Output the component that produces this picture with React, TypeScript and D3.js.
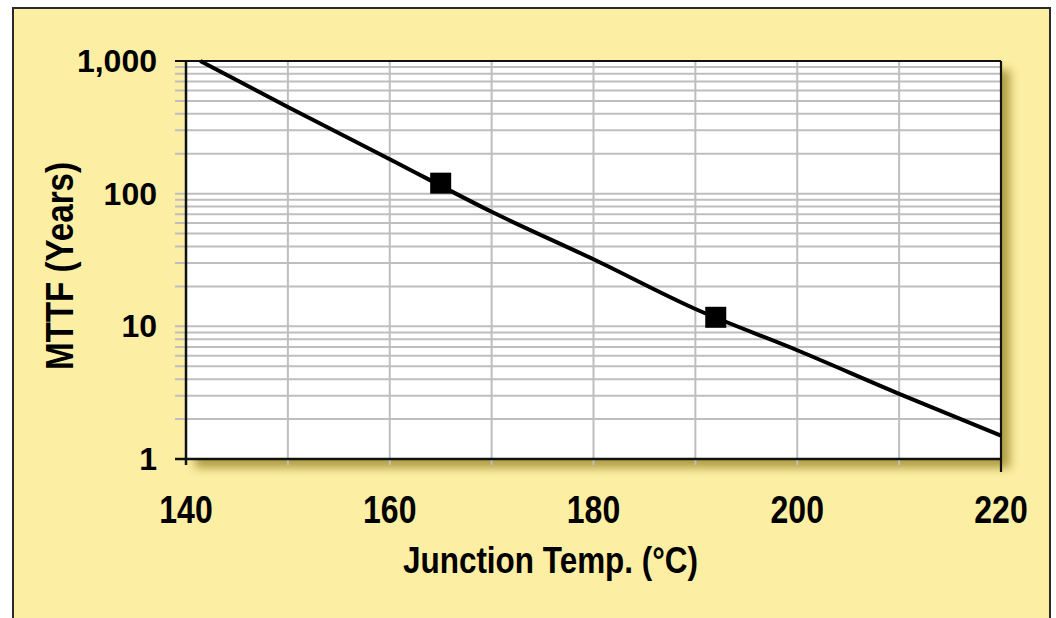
import React from "react";
import * as d3 from "d3";

// ---- data ----
const lineTemps = [141.4, 150, 160, 170, 180, 190, 200, 210, 220];
const lineMTTF = [1000, 450, 182, 73, 32, 13.5, 6.6, 3.1, 1.5];
const markerTemps = [165, 192];
const markerMTTF = [120, 11.7];
const xLabelValues = [140, 160, 180, 200, 220];
const yLabelValues = [1, 10, 100, 1000];
const yLabelTexts = ["1", "10", "100", "1,000"];
const xTitle = "Junction Temp. (°C)";
const yTitle = "MTTF (Years)";

const W = 1056;
const H = 618;
const FONT = "'Liberation Sans', Arial, Helvetica, sans-serif";

export default function App() {
  const left = 186, right = 1001, top = 61, bottom = 459;
  const x = d3.scaleLinear().domain([140, 220]).range([left, right]);
  const y = d3.scaleLog().domain([1, 1000]).range([bottom, top]);

  const yGrid = y.ticks();
  const xGrid = x.ticks(8);

  const pts = lineTemps.map((t, i) => [t, lineMTTF[i]] as [number, number]);
  const line = d3
    .line<[number, number]>()
    .x((d) => x(d[0]))
    .y((d) => y(d[1]))
    .curve(d3.curveMonotoneX);

  const bg = "#FCEEA3";
  const grid = "#BEBEBE";
  const ms = 21;

  return (
    <svg
      width={W}
      height={H}
      style={{ position: "absolute", left: 0, top: 0, display: "block" }}
    >
      <defs>
        <filter id="shadow" x="-10%" y="-10%" width="130%" height="130%">
          <feGaussianBlur stdDeviation="5" />
        </filter>
      </defs>
      <rect x={0} y={0} width={W} height={H} fill="#ffffff" />
      <rect
        x={13}
        y={8}
        width={1037}
        height={H + 20}
        fill={bg}
        stroke="#2a2a2a"
        strokeWidth={2}
      />
      {/* drop shadow */}
      <rect
        x={left + 9}
        y={top + 9}
        width={right - left}
        height={bottom - top}
        fill="#8f7c1c"
        opacity={0.7}
        filter="url(#shadow)"
      />
      {/* plot area */}
      <rect x={left} y={top} width={right - left} height={bottom - top} fill="#ffffff" />

      {/* horizontal grid + y ticks */}
      {yGrid.map((v, i) => (
        <line
          key={"yg" + i}
          x1={left - 11}
          x2={right}
          y1={y(v)}
          y2={y(v)}
          stroke={v === 1 || v === 1000 ? "#111" : grid}
          strokeWidth={v === 1 || v === 1000 ? 2.2 : 2}
        />
      ))}
      {/* vertical grid + x ticks */}
      {xGrid.map((v, i) => (
        <line
          key={"xg" + i}
          x1={x(v)}
          x2={x(v)}
          y1={top}
          y2={bottom + 6}
          stroke={v === 140 || v === 220 ? "#111" : grid}
          strokeWidth={2}
        />
      ))}
      {/* frame */}
      <line x1={left} x2={left} y1={top} y2={bottom + 6} stroke="#111" strokeWidth={2.5} />
      <line x1={right} x2={right} y1={top} y2={bottom + 13} stroke="#111" strokeWidth={2.2} />
      <line x1={left - 11} x2={right} y1={bottom} y2={bottom} stroke="#111" strokeWidth={2.5} />
      <line x1={left - 11} x2={right} y1={top} y2={top} stroke="#111" strokeWidth={2.2} />

      {/* data line */}
      <path d={line(pts) || ""} fill="none" stroke="#000" strokeWidth={4} />
      {markerTemps.map((t, i) => (
        <rect
          key={"m" + i}
          x={x(t) - ms / 2}
          y={y(markerMTTF[i]) - ms / 2}
          width={ms}
          height={ms}
          fill="#000"
        />
      ))}

      {/* y labels */}
      {yLabelValues.map((v, i) => (
        <text
          key={"yl" + i}
          x={157}
          y={y(v) + 11}
          textAnchor="end"
          fontFamily={FONT}
          fontWeight="bold"
          fontSize={32}
          fill="#000"
        >
          {yLabelTexts[i]}
        </text>
      ))}
      {/* x labels */}
      {xLabelValues.map((v, i) => (
        <g key={"xl" + i} transform={`translate(${x(v)},523) scale(1,1.2)`}>
          <text
            x={0}
            y={0}
            textAnchor="middle"
            fontFamily={FONT}
            fontWeight="bold"
            fontSize={32}
            fill="#000"
          >
            {String(v)}
          </text>
        </g>
      ))}
      {/* axis titles */}
      <g transform="translate(550.5,573) scale(1,1.13)">
        <text
          x={0}
          y={0}
          textAnchor="middle"
          fontFamily={FONT}
          fontWeight="bold"
          fontSize={32}
          textLength={295}
          lengthAdjust="spacingAndGlyphs"
          fill="#000"
        >
          {xTitle}
        </text>
      </g>
      <g transform="translate(73,266) rotate(-90) scale(1,1.2)">
        <text
          x={0}
          y={0}
          textAnchor="middle"
          fontFamily={FONT}
          fontWeight="bold"
          fontSize={32}
          textLength={208}
          lengthAdjust="spacingAndGlyphs"
          fill="#000"
        >
          {yTitle}
        </text>
      </g>
    </svg>
  );
}
